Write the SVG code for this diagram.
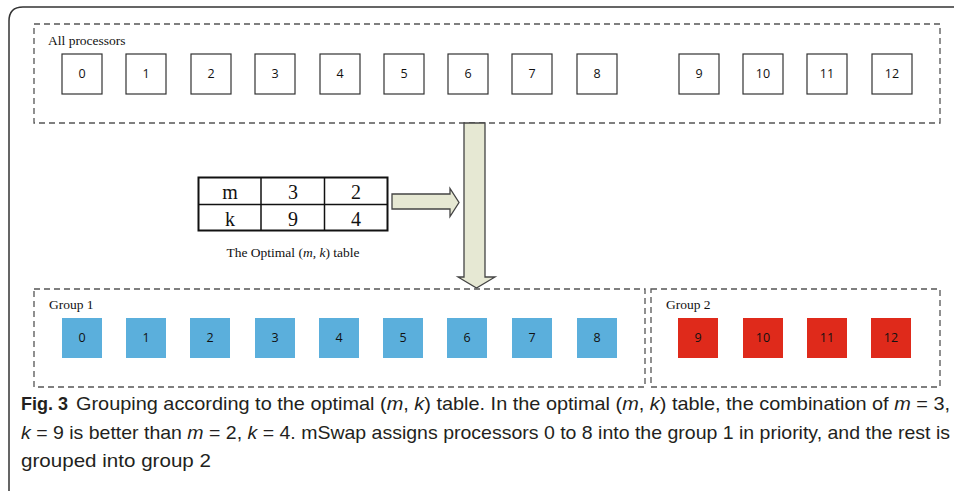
<svg xmlns="http://www.w3.org/2000/svg" width="954" height="491" viewBox="0 0 954 491">
<style>
.frame{fill:none;stroke:#333;stroke-width:1.5}
.dash{fill:none;stroke:#555;stroke-width:1.3;stroke-dasharray:6,4}
.pbox{fill:#fff;stroke:#333;stroke-width:1.2}
.blue{fill:#5BAFDC}
.red{fill:#DF2A1B}
.num{font-family:"Open Sans","Noto Sans",sans-serif;font-size:12.5px;fill:#111;text-anchor:middle}
.lbl{font-family:"Liberation Serif",serif;font-size:13.5px;fill:#111}
.tbl{font-family:"Liberation Serif",serif;font-size:20px;fill:#111;text-anchor:middle}
.arrow{fill:#E6E8D3;stroke:#444;stroke-width:1.3}
.cap{font-family:"Liberation Sans",sans-serif;font-size:19px;fill:#231F20}
</style>
<rect width="954" height="491" fill="#fff"/>
<path class="frame" d="M9 491 V21 Q9 7 23 7 H954"/>

<g id="all-processors">
<rect class="dash" x="34" y="24" width="906" height="99"/>
<text class="lbl" x="48" y="45">All processors</text>
</g>
<g id="top-row">
<g id="p0"><rect class="pbox" x="62" y="54" width="40" height="40"/><text class="num" x="82" y="78">0</text></g>
<g id="p1"><rect class="pbox" x="126" y="54" width="40" height="40"/><text class="num" x="146" y="78">1</text></g>
<g id="p2"><rect class="pbox" x="191" y="54" width="40" height="40"/><text class="num" x="211" y="78">2</text></g>
<g id="p3"><rect class="pbox" x="255" y="54" width="40" height="40"/><text class="num" x="275" y="78">3</text></g>
<g id="p4"><rect class="pbox" x="320" y="54" width="40" height="40"/><text class="num" x="340" y="78">4</text></g>
<g id="p5"><rect class="pbox" x="384" y="54" width="40" height="40"/><text class="num" x="404" y="78">5</text></g>
<g id="p6"><rect class="pbox" x="448" y="54" width="40" height="40"/><text class="num" x="468" y="78">6</text></g>
<g id="p7"><rect class="pbox" x="512" y="54" width="40" height="40"/><text class="num" x="532" y="78">7</text></g>
<g id="p8"><rect class="pbox" x="577" y="54" width="40" height="40"/><text class="num" x="597" y="78">8</text></g>
<g id="p9"><rect class="pbox" x="679" y="54" width="40" height="40"/><text class="num" x="699" y="78">9</text></g>
<g id="p10"><rect class="pbox" x="743" y="54" width="40" height="40"/><text class="num" x="763" y="78">10</text></g>
<g id="p11"><rect class="pbox" x="807" y="54" width="40" height="40"/><text class="num" x="827" y="78">11</text></g>
<g id="p12"><rect class="pbox" x="872" y="54" width="40" height="40"/><text class="num" x="892" y="78">12</text></g>
</g>

<g id="table">
<rect x="198.5" y="177.5" width="189" height="53" fill="#fff" stroke="#111" stroke-width="2"/>
<line x1="198.5" y1="204.5" x2="387.5" y2="204.5" stroke="#111" stroke-width="1.5"/>
<line x1="261" y1="177.5" x2="261" y2="230.5" stroke="#111" stroke-width="1.5"/>
<line x1="324.5" y1="177.5" x2="324.5" y2="230.5" stroke="#111" stroke-width="1.5"/>
<text class="tbl" x="230" y="199">m</text>
<text class="tbl" x="293" y="199">3</text>
<text class="tbl" x="356" y="199">2</text>
<text class="tbl" x="230" y="226">k</text>
<text class="tbl" x="293" y="226">9</text>
<text class="tbl" x="356" y="226">4</text>
<text class="lbl" x="293" y="257" text-anchor="middle">The Optimal (<tspan font-style="italic">m</tspan>, <tspan font-style="italic">k</tspan>) table</text>
</g>

<g id="connectors">
<path class="arrow" d="M392 194 H450 V188.5 L459 202.5 L450 216.5 V209 H392 Z"/>
<path class="arrow" d="M464 123 H485 V277 H495 L476.5 288 L458 277 H464 Z"/>
</g>

<g id="group1">
<rect class="dash" x="34" y="289" width="611" height="98"/>
<text class="lbl" x="49" y="309">Group 1</text>
<g id="g0"><rect class="blue" x="62" y="318" width="40" height="40"/><text class="num" x="82" y="342">0</text></g>
<g id="g1"><rect class="blue" x="126" y="318" width="40" height="40"/><text class="num" x="146" y="342">1</text></g>
<g id="g2"><rect class="blue" x="190" y="318" width="40" height="40"/><text class="num" x="210" y="342">2</text></g>
<g id="g3"><rect class="blue" x="255" y="318" width="40" height="40"/><text class="num" x="275" y="342">3</text></g>
<g id="g4"><rect class="blue" x="319" y="318" width="40" height="40"/><text class="num" x="339" y="342">4</text></g>
<g id="g5"><rect class="blue" x="383" y="318" width="40" height="40"/><text class="num" x="403" y="342">5</text></g>
<g id="g6"><rect class="blue" x="447" y="318" width="40" height="40"/><text class="num" x="467" y="342">6</text></g>
<g id="g7"><rect class="blue" x="512" y="318" width="40" height="40"/><text class="num" x="532" y="342">7</text></g>
<g id="g8"><rect class="blue" x="577" y="318" width="40" height="40"/><text class="num" x="597" y="342">8</text></g>
</g>

<g id="group2">
<rect class="dash" x="651" y="289" width="289" height="98"/>
<text class="lbl" x="666" y="309">Group 2</text>
<g id="g9"><rect class="red" x="678" y="318" width="40" height="40"/><text class="num" x="698" y="342">9</text></g>
<g id="g10"><rect class="red" x="743" y="318" width="40" height="40"/><text class="num" x="763" y="342">10</text></g>
<g id="g11"><rect class="red" x="807" y="318" width="40" height="40"/><text class="num" x="827" y="342">11</text></g>
<g id="g12"><rect class="red" x="871" y="318" width="40" height="40"/><text class="num" x="891" y="342">12</text></g>
</g>

<g id="caption">
<text class="cap" x="21" y="410" font-weight="bold" textLength="47" lengthAdjust="spacingAndGlyphs">Fig. 3</text>
<text class="cap" x="76" y="410" textLength="874" lengthAdjust="spacingAndGlyphs">Grouping according to the optimal (<tspan font-style="italic">m</tspan>, <tspan font-style="italic">k</tspan>) table. In the optimal (<tspan font-style="italic">m</tspan>, <tspan font-style="italic">k</tspan>) table, the combination of <tspan font-style="italic">m</tspan> = 3,</text>
<text class="cap" x="21" y="439" textLength="929" lengthAdjust="spacingAndGlyphs"><tspan font-style="italic">k</tspan> = 9 is better than <tspan font-style="italic">m</tspan> = 2, <tspan font-style="italic">k</tspan> = 4. mSwap assigns processors 0 to 8 into the group 1 in priority, and the rest is</text>
<text class="cap" x="21" y="467" textLength="190" lengthAdjust="spacingAndGlyphs">grouped into group 2</text>
</g>
</svg>
